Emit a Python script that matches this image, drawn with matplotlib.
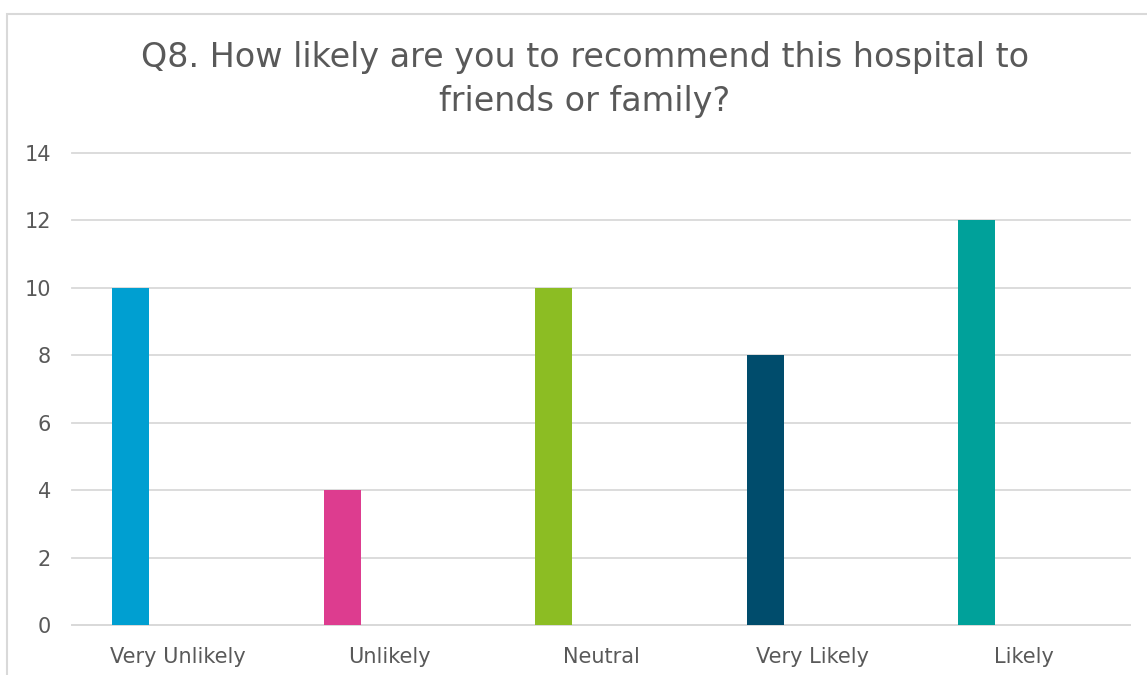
import matplotlib
matplotlib.use("Agg")
import matplotlib.pyplot as plt
import matplotlib.patches as patches
import numpy as np

categories = ["Very Unlikely", "Unlikely", "Neutral", "Very Likely", "Likely"]
counts = [10, 4, 10, 8, 12]
colors = ["#009fd1", "#dd3c8f", "#8cbd23", "#004c6c", "#00a19a"]

text_color = "#595959"
grid_color = "#d9d9d9"

fig = plt.figure(figsize=(11.47, 6.75), dpi=100)
ax = fig.add_axes([0.0628, 0.074, 0.9224, 0.6993])

# outer chart frame (runs off the right and bottom edges)
fig.patches.append(patches.Rectangle((0.0061, -0.1), 2.0, 1.079,
                                     transform=fig.transFigure, fill=False,
                                     edgecolor=grid_color, linewidth=1.5))

x = np.arange(len(categories))
ax.bar(x - 0.2235, counts, width=0.175, color=colors, zorder=3)

ax.set_xlim(-0.5, len(categories) - 0.5)
ax.set_ylim(0, 14)
ax.set_yticks(range(0, 15, 2))
ax.set_xticks(x)
ax.set_xticklabels(categories)
ax.yaxis.grid(True, color=grid_color, linewidth=1.3, zorder=0)
for gl in ax.get_ygridlines():
    gl.set_clip_on(False)
ax.tick_params(axis="both", length=0, colors=text_color, labelsize=15)
ax.tick_params(axis="y", pad=15)
ax.tick_params(axis="x", pad=16)
for s in ["top", "right", "left"]:
    ax.spines[s].set_visible(False)
ax.spines["bottom"].set_color(grid_color)
ax.spines["bottom"].set_linewidth(1.3)

fig.text(0.51, 0.882, "Q8. How likely are you to recommend this hospital to\nfriends or family?",
         ha="center", va="center", fontsize=24, color=text_color, linespacing=1.45)

fig.savefig("out.png", dpi=100)
